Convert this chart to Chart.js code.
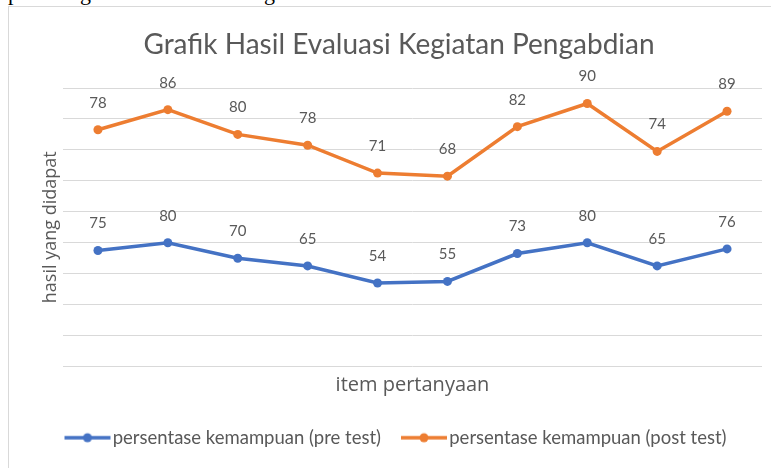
<!DOCTYPE html>
<html>
<head>
<meta charset="utf-8">
<script src="https://cdn.jsdelivr.net/npm/chart.js@4.4.1/dist/chart.umd.min.js"></script>
<style>
  html, body { margin: 0; padding: 0; width: 771px; height: 468px; overflow: hidden; background: #ffffff; }
  #frame { position: absolute; left: 8px; top: 6px; width: 900px; height: 600px; border-left: 1px solid #d9d9d9; border-top: 1px solid #d9d9d9; }
  #chart { position: absolute; left: 0; top: 0; }
  .doc { position: absolute; top: -18px; font-family: "Liberation Serif", serif; font-size: 22px; line-height: 22px; color: #000; }
</style>
</head>
<body>
<div id="frame"></div>
<span class="doc" style="left:8px">p</span>
<span class="doc" style="left:80px">g</span>
<span class="doc" style="left:264px">g</span>
<canvas id="chart" width="771" height="468"></canvas>
<script>
// ---- data ----
const categories = ['1', '2', '3', '4', '5', '6', '7', '8', '9', '10'];
const preTest = [75, 80, 70, 65, 54, 55, 73, 80, 65, 76];
const postTest = [78, 86, 80, 78, 71, 68, 82, 90, 74, 89];
const yMin = 0, yMax = 180, yStep = 20;
const seriesNames = ['persentase kemampuan (pre test)', 'persentase kemampuan (post test)'];
const titleText = 'Grafik Hasil Evaluasi Kegiatan Pengabdian';
const yTitle = 'hasil yang didapat';
const xTitle = 'item pertanyaan';

const BLUE = '#4472C4';
const ORANGE = '#ED7D31';
const TEXT = '#595959';
const GRID = '#d9d9d9';
const FONT = 'Lato';
const AXFONT = 'Open Sans';

function legendIcon(color) {
  const c = document.createElement('canvas');
  c.width = 48; c.height = 12;
  const g = c.getContext('2d');
  g.strokeStyle = color; g.lineWidth = 3.5; g.lineCap = 'butt';
  g.beginPath(); g.moveTo(1, 6); g.lineTo(47, 6); g.stroke();
  g.fillStyle = color;
  g.beginPath(); g.arc(24, 6, 4.5, 0, Math.PI * 2); g.fill();
  return c;
}
const icons = [legendIcon(BLUE), legendIcon(ORANGE)];

const valueLabels = {
  id: 'valueLabels',
  afterDatasetsDraw(chart) {
    const ctx = chart.ctx;
    ctx.save();
    ctx.font = '15px ' + FONT;
    ctx.fillStyle = TEXT;
    ctx.textAlign = 'center';
    ctx.textBaseline = 'middle';
    chart.data.datasets.forEach((ds, di) => {
      const meta = chart.getDatasetMeta(di);
      meta.data.forEach((pt, i) => {
        ctx.fillText(String(ds.data[i]), pt.x, pt.y - 27);
      });
    });
    ctx.restore();
  }
};

new Chart(document.getElementById('chart'), {
  type: 'line',
  data: {
    labels: categories,
    datasets: [
      { label: seriesNames[0], data: preTest, borderColor: BLUE, backgroundColor: BLUE,
        borderWidth: 3.5, pointRadius: 4.5, pointBorderWidth: 0, pointBackgroundColor: BLUE, fill: false, tension: 0 },
      { label: seriesNames[1], data: postTest, borderColor: ORANGE, backgroundColor: ORANGE,
        borderWidth: 3.5, pointRadius: 4.5, pointBorderWidth: 0, pointBackgroundColor: ORANGE, fill: false, tension: 0 }
    ]
  },
  options: {
    responsive: false,
    animation: false,
    devicePixelRatio: 1,
    layout: { padding: { left: 36, right: 9, top: 0, bottom: 11 } },
    plugins: {
      title: {
        display: true, text: titleText, color: TEXT,
        font: { family: FONT, size: 28, weight: 'normal', lineHeight: 1.2 },
        padding: { top: 28.2, bottom: 26.2 }
      },
      legend: {
        position: 'bottom',
        labels: {
          color: TEXT,
          font: { family: FONT, size: 18.5 },
          usePointStyle: true,
          pointStyleWidth: 32,
          boxHeight: 15,
          padding: 27,
          generateLabels(chart) {
            const items = Chart.defaults.plugins.legend.labels.generateLabels(chart);
            items.forEach((it, i) => { it.pointStyle = icons[i]; });
            return items;
          }
        }
      },
      tooltip: { enabled: false }
    },
    scales: {
      x: {
        offset: true,
        grid: { display: false, drawTicks: false },
        border: { display: false },
        ticks: { display: false },
        title: { display: true, text: xTitle, color: TEXT, font: { family: AXFONT, size: 20, lineHeight: 1.2 }, padding: { top: 0, bottom: 4 } },
        afterFit(s) { s.height = 35; }
      },
      y: {
        stacked: true,
        min: yMin, max: yMax,
        ticks: { display: false, stepSize: yStep },
        grid: { color: GRID, lineWidth: 1, drawTicks: false },
        border: { display: false },
        title: { display: true, text: yTitle, color: TEXT, font: { family: AXFONT, size: 18, lineHeight: 1.2 }, padding: { top: 4.2, bottom: 0 } },
        afterFit(s) { s.width = 27; }
      }
    }
  },
  plugins: [valueLabels]
});
</script>
</body>
</html>
